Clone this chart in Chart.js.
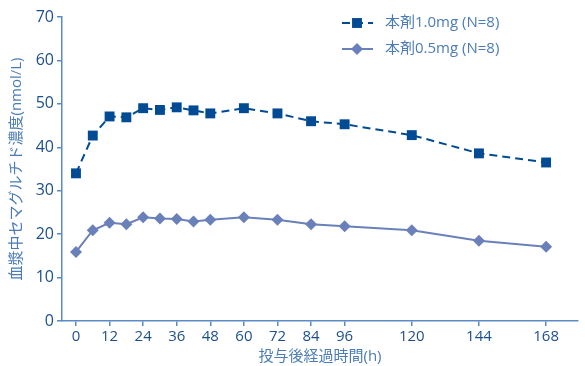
<!DOCTYPE html>
<html>
<head>
<meta charset="utf-8">
<script src="https://cdn.jsdelivr.net/npm/chart.js@4"></script>
<style>
  html, body { margin: 0; padding: 0; background: #fff; }
  #wrap { width: 585px; height: 366px; }
</style>
</head>
<body>
<div id="wrap"><canvas id="pkChart"></canvas></div>
<script>
// 投与後経過時間 (h)
const times = [0, 6, 12, 18, 24, 30, 36, 42, 48, 60, 72, 84, 96, 120, 144, 168];
// 本剤1.0mg (N=8)
const dose10 = [34.0, 42.7, 47.1, 46.9, 49.0, 48.6, 49.2, 48.5, 47.8, 49.0, 47.8, 46.0, 45.3, 42.8, 38.6, 36.5];
// 本剤0.5mg (N=8)
const dose05 = [15.9, 20.9, 22.6, 22.3, 23.9, 23.6, 23.5, 22.9, 23.3, 23.9, 23.3, 22.3, 21.8, 20.9, 18.5, 17.1];
const xTicks = [0, 12, 24, 36, 48, 60, 72, 84, 96, 120, 144, 168];
const seriesLabels = ['本剤1.0mg (N=8)', '本剤0.5mg (N=8)'];

const FONT = '"Open Sans", "Noto Sans CJK JP", sans-serif';
const dark = '#004b93';
const light = '#6a80ba';
const axisColor = '#5b8bc7';
const tickColor = '#1c4f8e';
const titleColor = '#4b7cb8';

// legend: short line sample with the marker in the middle
const legendPlugin = {
    id: 'lineLegend',
    afterDraw(chart) {
        const ctx = chart.ctx;
        const rows = [
            { y: 23, ds: chart.data.datasets[0] },
            { y: 49, ds: chart.data.datasets[1] }
        ];
        rows.forEach(r => {
            ctx.save();
            ctx.strokeStyle = r.ds.borderColor;
            ctx.lineWidth = 2;
            ctx.setLineDash(r.ds.borderDash || []);
            ctx.beginPath();
            ctx.moveTo(342, r.y);
            ctx.lineTo(373, r.y);
            ctx.stroke();
            ctx.setLineDash([]);
            ctx.fillStyle = r.ds.pointBackgroundColor;
            ctx.strokeStyle = r.ds.pointBackgroundColor;
            Chart.helpers.drawPoint(ctx, {
                pointStyle: r.ds.pointStyle,
                radius: r.ds.pointRadius,
                borderWidth: 0
            }, 357, r.y);
            ctx.fillStyle = titleColor;
            ctx.font = '15px ' + FONT;
            ctx.textBaseline = 'middle';
            ctx.fillText(r.ds.label, 385, r.y);
            ctx.restore();
        });
    }
};

const ctx = document.getElementById('pkChart').getContext('2d');
new Chart(ctx, {
    type: 'line',
    data: {
        datasets: [
            {
                label: seriesLabels[0],
                data: times.map((t, i) => ({ x: t, y: dose10[i] })),
                borderColor: dark,
                backgroundColor: dark,
                borderWidth: 2,
                borderDash: [8, 5],
                pointStyle: 'rect',
                pointRadius: 7,
                pointBorderWidth: 0,
                pointBackgroundColor: dark,
                tension: 0
            },
            {
                label: seriesLabels[1],
                data: times.map((t, i) => ({ x: t, y: dose05[i] })),
                borderColor: light,
                backgroundColor: light,
                borderWidth: 2,
                pointStyle: 'rectRot',
                pointRadius: 6,
                pointBorderWidth: 0,
                pointBackgroundColor: light,
                tension: 0
            }
        ]
    },
    options: {
        responsive: true,
        maintainAspectRatio: false,
        animation: false,
        layout: { padding: { top: 17, right: 3, left: 0, bottom: 0 } },
        plugins: {
            legend: { display: false },
            tooltip: { enabled: false }
        },
        scales: {
            x: {
                type: 'linear',
                min: -5,
                max: 179.4,
                afterBuildTicks: scale => {
                    scale.ticks = xTicks.map(v => ({ value: v }));
                },
                afterFit: scale => { scale.height = 45; },
                grid: { drawOnChartArea: false, drawTicks: true, tickLength: 5, color: axisColor, lineWidth: 1.5 },
                border: { color: axisColor, width: 1.5 },
                ticks: { color: tickColor, font: { family: FONT, size: 15 }, padding: 2, maxRotation: 0, autoSkip: false },
                title: {
                    display: true,
                    text: '投与後経過時間(h)',
                    color: titleColor,
                    font: { family: FONT, size: 15 },
                    padding: { top: 2, bottom: 0 }
                }
            },
            y: {
                min: 0,
                max: 70,
                ticks: { stepSize: 10, color: tickColor, font: { family: FONT, size: 16 }, padding: 3 },
                afterFit: scale => { scale.width = 62; },
                grid: { drawOnChartArea: false, drawTicks: true, tickLength: 5, color: axisColor, lineWidth: 1.5 },
                border: { color: axisColor, width: 1.5 },
                title: {
                    display: true,
                    text: '血漿中セマグルチド濃度(nmol/L)',
                    color: titleColor,
                    font: { family: FONT, size: 15 },
                    padding: { top: 8, bottom: 0 }
                }
            }
        }
    },
    plugins: [legendPlugin]
});
</script>
</body>
</html>
